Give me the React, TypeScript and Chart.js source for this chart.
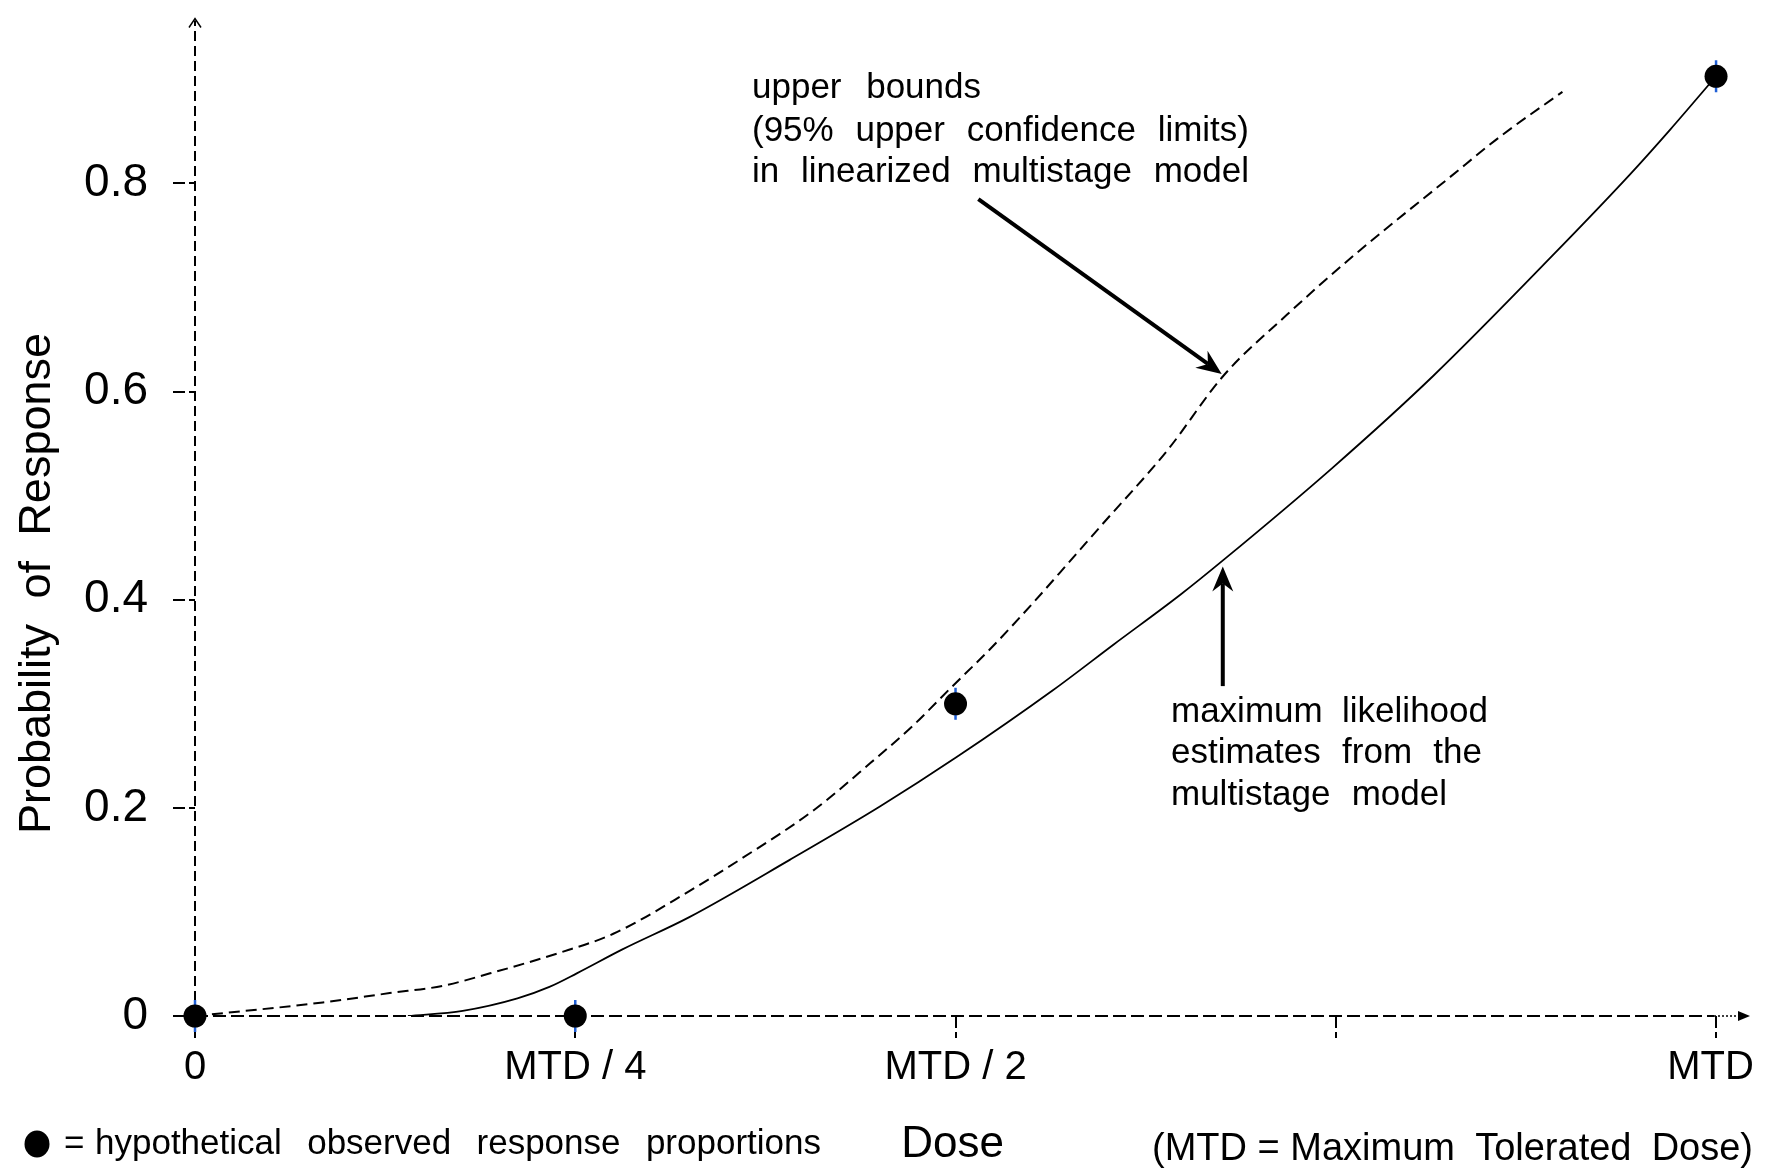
import React, { useEffect, useRef } from "react";
import { Chart, registerables } from "chart.js";

Chart.register(...registerables);

// ---- data ----
const doseTicks = [0, 0.25, 0.5, 0.75, 1];
const doseTickLabels = ["0", "MTD / 4", "MTD / 2", "", "MTD "];
const probTicks = [0, 0.2, 0.4, 0.6, 0.8];
const probTickLabels = ["0", "0.2", "0.4", "0.6", "0.8"];

const upperDose = [0, 0.084, 0.128, 0.163, 0.194, 0.238, 0.275, 0.325, 0.358, 0.407, 0.444, 0.472, 0.496, 0.525, 0.551, 0.574, 0.595, 0.639, 0.676, 0.718, 0.762, 0.825, 0.858, 0.899];
const upperProb = [0, 0.013, 0.022, 0.029, 0.041, 0.06, 0.079, 0.12, 0.15, 0.198, 0.243, 0.279, 0.314, 0.356, 0.397, 0.435, 0.47, 0.543, 0.615, 0.674, 0.731, 0.806, 0.845, 0.888];

const mleDose = [0.14, 0.176, 0.212, 0.233, 0.251, 0.281, 0.325, 0.391, 0.45, 0.501, 0.564, 0.604, 0.648, 0.676, 0.748, 0.814, 0.894, 0.943, 0.97, 1.0];
const mleProb = [0, 0.005, 0.017, 0.028, 0.041, 0.064, 0.095, 0.15, 0.201, 0.249, 0.313, 0.357, 0.405, 0.438, 0.527, 0.615, 0.733, 0.808, 0.852, 0.903];

const obsDose = [0, 0.25, 0.5, 1.0];
const obsProb = [0, 0, 0.3, 0.903];

const upperArrowFrom = [0.515, 0.785];
const upperArrowTo = [0.675, 0.617];
const mleArrowFrom = [0.6757, 0.317];
const mleArrowTo = [0.6757, 0.432];

// ---- styling / layout ----
const FONT = "'Liberation Sans', Arial, Helvetica, sans-serif";
const W = 1768;
const H = 1168;

// words separated by two spaces are spread to fill the given width
type TextItem = { text: string; x: number; y: number; width?: number; size: number };
const textItems: TextItem[] = [
  { text: "upper  bounds", x: 752, y: 88, width: 981 - 752, size: 35 },
  { text: "(95%  upper  confidence  limits)", x: 752, y: 131, width: 1249 - 752, size: 35 },
  { text: "in  linearized  multistage  model", x: 752, y: 172, width: 1249 - 752, size: 35 },
  { text: "maximum  likelihood", x: 1171, y: 712, width: 1488 - 1171, size: 35 },
  { text: "estimates  from  the", x: 1171, y: 753, width: 1482 - 1171, size: 35 },
  { text: "multistage  model", x: 1171, y: 795, width: 1447 - 1171, size: 35 },
  { text: "=", x: 64, y: 1144, size: 35 },
  { text: "hypothetical  observed  response  proportions", x: 95, y: 1144, width: 821 - 95, size: 35 },
  { text: "(MTD = Maximum  Tolerated  Dose)", x: 1152, y: 1150, width: 1753 - 1152, size: 38 },
];

function drawWords(ctx: CanvasRenderingContext2D, text: string, x: number, y: number, width?: number) {
  const words = text.split(/\s{2,}/);
  if (!width || words.length < 2) {
    ctx.fillText(text, x, y);
    return;
  }
  const widths = words.map((w) => ctx.measureText(w).width);
  const total = widths.reduce((a, b) => a + b, 0);
  const gap = (width - total) / (words.length - 1);
  let cx = x;
  words.forEach((w, i) => {
    ctx.fillText(w, cx, y);
    cx += widths[i] + gap;
  });
}

function drawArrow(ctx: CanvasRenderingContext2D, x1: number, y1: number, x2: number, y2: number) {
  const ang = Math.atan2(y2 - y1, x2 - x1);
  const len = 25;
  const half = 10.5;
  const notch = 8;
  const bx = x2 - Math.cos(ang) * len;
  const by = y2 - Math.sin(ang) * len;
  const nx = x2 - Math.cos(ang) * (len - notch);
  const ny = y2 - Math.sin(ang) * (len - notch);
  ctx.save();
  ctx.strokeStyle = "#000";
  ctx.fillStyle = "#000";
  ctx.lineWidth = 4;
  ctx.beginPath();
  ctx.moveTo(x1, y1);
  ctx.lineTo(nx, ny);
  ctx.stroke();
  ctx.beginPath();
  ctx.moveTo(x2, y2);
  ctx.lineTo(bx + Math.cos(ang + Math.PI / 2) * half, by + Math.sin(ang + Math.PI / 2) * half);
  ctx.lineTo(nx, ny);
  ctx.lineTo(bx - Math.cos(ang + Math.PI / 2) * half, by - Math.sin(ang + Math.PI / 2) * half);
  ctx.closePath();
  ctx.fill();
  ctx.restore();
}

const axesPlugin = {
  id: "dashedAxes",
  beforeDatasetsDraw(chart: any) {
    const ctx: CanvasRenderingContext2D = chart.ctx;
    const area = chart.chartArea;
    ctx.save();
    ctx.strokeStyle = "#000";
    ctx.lineWidth = 2;
    // y axis
    ctx.setLineDash([10, 5]);
    ctx.beginPath();
    ctx.moveTo(area.left, area.bottom);
    ctx.lineTo(area.left, area.top + 2);
    ctx.stroke();
    // x axis
    ctx.setLineDash([13, 5]);
    ctx.beginPath();
    ctx.moveTo(area.left, area.bottom);
    ctx.lineTo(area.right - 34, area.bottom);
    ctx.stroke();
    ctx.setLineDash([2, 2]);
    ctx.lineWidth = 1.5;
    ctx.beginPath();
    ctx.moveTo(area.right - 34, area.bottom);
    ctx.lineTo(area.right - 6, area.bottom);
    ctx.stroke();
    ctx.setLineDash([]);
    // arrow heads
    ctx.lineWidth = 1.5;
    ctx.beginPath();
    ctx.moveTo(area.left - 6, area.top + 9);
    ctx.lineTo(area.left, area.top);
    ctx.lineTo(area.left + 6, area.top + 9);
    ctx.stroke();
    ctx.fillStyle = "#000";
    ctx.beginPath();
    ctx.moveTo(area.right + 2, area.bottom);
    ctx.lineTo(area.right - 10, area.bottom - 5);
    ctx.lineTo(area.right - 10, area.bottom + 5);
    ctx.closePath();
    ctx.fill();
    ctx.restore();
  },
};

const annotationPlugin = {
  id: "annotations",
  afterDraw(chart: any) {
    const ctx: CanvasRenderingContext2D = chart.ctx;
    const xs = chart.scales.x;
    const ys = chart.scales.y;
    ctx.save();

    drawArrow(
      ctx,
      xs.getPixelForValue(upperArrowFrom[0]),
      ys.getPixelForValue(upperArrowFrom[1]),
      xs.getPixelForValue(upperArrowTo[0]),
      ys.getPixelForValue(upperArrowTo[1])
    );
    drawArrow(
      ctx,
      xs.getPixelForValue(mleArrowFrom[0]),
      ys.getPixelForValue(mleArrowFrom[1]),
      xs.getPixelForValue(mleArrowTo[0]),
      ys.getPixelForValue(mleArrowTo[1])
    );

    ctx.fillStyle = "#000";
    ctx.textAlign = "left";
    ctx.textBaseline = "middle";
    textItems.forEach((t) => {
      ctx.font = `${t.size}px ${FONT}`;
      drawWords(ctx, t.text, t.x, t.y, t.width);
    });

    // legend bullet
    ctx.beginPath();
    ctx.ellipse(37, 1144, 12.5, 13.5, 0, 0, Math.PI * 2);
    ctx.fill();

    // x-axis title
    ctx.font = `44px ${FONT}`;
    ctx.textAlign = "center";
    ctx.fillText("Dose", xs.getPixelForValue(0.5) - 3, 1145);

    // y-axis title
    ctx.save();
    ctx.translate(50, 583.5);
    ctx.rotate(-Math.PI / 2);
    ctx.font = `45px ${FONT}`;
    ctx.textAlign = "left";
    ctx.textBaseline = "alphabetic";
    drawWords(ctx, "Probability  of  Response", -250.5, 0, 501);
    ctx.restore();

    ctx.restore();
  },
};

export default function App() {
  const ref = useRef<HTMLCanvasElement | null>(null);

  useEffect(() => {
    if (!ref.current) return;
    const pts = (xs: number[], ys: number[]) => xs.map((x, i) => ({ x, y: ys[i] }));
    const tickGrid = {
      display: true,
      drawOnChartArea: false,
      drawTicks: true,
      tickLength: 22,
      tickColor: "#000",
      tickWidth: 2,
      tickBorderDash: [12, 4],
      color: "#000",
      lineWidth: 2,
    };
    const chart = new Chart(ref.current, {
      type: "scatter",
      data: {
        datasets: [
          {
            label: "observed",
            data: pts(obsDose, obsProb),
            showLine: false,
            pointStyle: "circle",
            pointRadius: 11.5,
            pointBackgroundColor: "#000",
            pointBorderColor: "#000",
            pointBorderWidth: 0,
            order: 0,
            clip: false,
          } as any,
          {
            label: "observed-bars",
            data: pts(obsDose, obsProb),
            showLine: false,
            pointStyle: "line",
            pointRotation: 90,
            pointRadius: 16,
            pointBorderColor: "#1f5fd6",
            pointBorderWidth: 2.5,
            order: 1,
            clip: false,
          } as any,
          {
            label: "MLE",
            data: pts(mleDose, mleProb),
            showLine: true,
            borderColor: "#000",
            borderWidth: 1.8,
            pointRadius: 0,
            fill: false,
            cubicInterpolationMode: "monotone",
            order: 2,
          } as any,
          {
            label: "upper bound",
            data: pts(upperDose, upperProb),
            showLine: true,
            borderColor: "#000",
            borderWidth: 2,
            borderDash: [11, 6],
            pointRadius: 0,
            fill: false,
            cubicInterpolationMode: "monotone",
            order: 3,
          } as any,
        ],
      },
      options: {
        animation: false,
        responsive: false,
        layout: { padding: { left: 0, top: 12, right: 20, bottom: 0 } },
        plugins: {
          legend: { display: false },
          tooltip: { enabled: false },
          title: { display: false },
        },
        scales: {
          x: {
            type: "linear",
            min: 0,
            max: 1.021,
            afterBuildTicks: (s: any) => {
              s.ticks = doseTicks.map((v) => ({ value: v }));
            },
            afterFit: (s: any) => {
              s.height = H - 1016;
              s.paddingLeft = 0;
              s.paddingRight = 0;
            },
            ticks: {
              callback: (_v: any, i: number) => doseTickLabels[i],
              font: { family: FONT, size: 40 },
              color: "#000",
              padding: 6,
              maxRotation: 0,
              autoSkip: false,
            },
            grid: tickGrid,
            border: { display: false },
          } as any,
          y: {
            type: "linear",
            min: 0,
            max: 0.9585,
            afterBuildTicks: (s: any) => {
              s.ticks = probTicks.map((v) => ({ value: v }));
            },
            afterFit: (s: any) => {
              s.width = 195;
              s.paddingTop = 0;
              s.paddingBottom = 0;
            },
            ticks: {
              callback: (_v: any, i: number) => probTickLabels[i],
              font: { family: FONT, size: 46 },
              color: "#000",
              padding: 25,
              autoSkip: false,
            },
            grid: tickGrid,
            border: { display: false },
          } as any,
        },
      } as any,
      plugins: [axesPlugin, annotationPlugin],
    });
    return () => chart.destroy();
  }, []);

  return (
    <div style={{ position: "fixed", left: 0, top: 0, width: W, height: H, background: "#fff" }}>
      <canvas ref={ref} width={W} height={H} style={{ width: W, height: H, display: "block" }} />
    </div>
  );
}
